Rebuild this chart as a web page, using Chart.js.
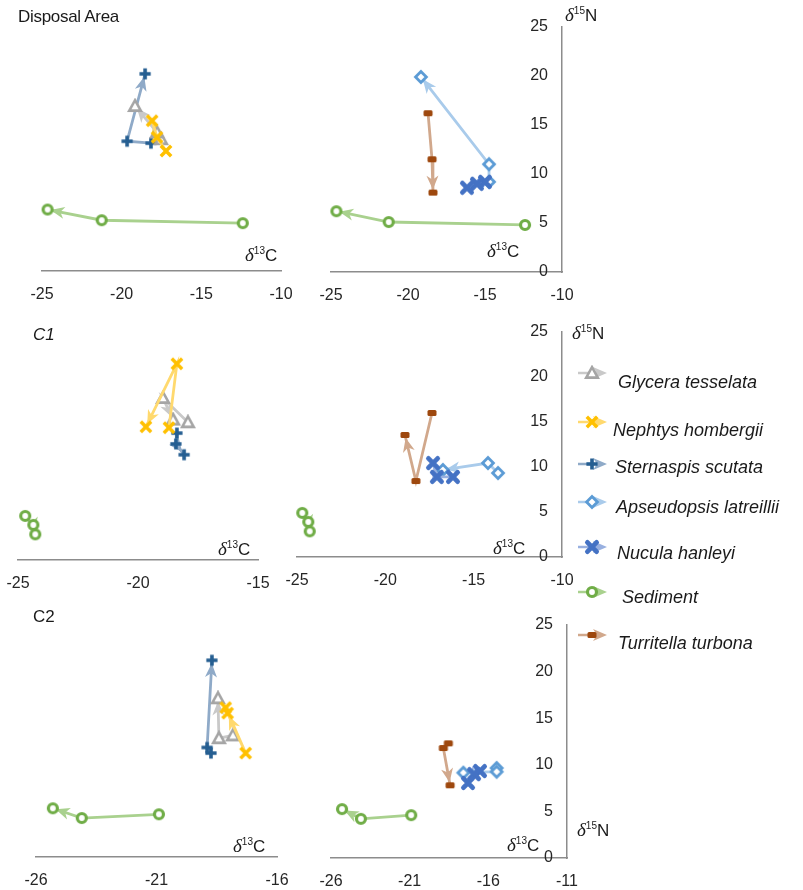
<!DOCTYPE html>
<html>
<head>
<meta charset="utf-8">
<script src="https://cdn.jsdelivr.net/npm/chart.js@4.4.1/dist/chart.umd.min.js"></script>
<style>
  body { margin: 0; background: #fff; }
  #stage { position: relative; width: 803px; height: 890px; overflow: hidden;
           font-family: "Liberation Sans", Arial, sans-serif; color: #1a1a1a; }
  #stage canvas { position: absolute; }
  .lbl { position: absolute; white-space: nowrap; line-height: 20px; font-size: 17px; }
  .ax i { font-family: "Liberation Serif", serif; font-size: 19px; }
  .ax sup { font-size: 10px; vertical-align: 7px; line-height: 0; }
  .leg { position: absolute; white-space: nowrap; font-style: italic; font-size: 18px; line-height: 20px; }
</style>
</head>
<body>
<div id="stage"></div>
<script>
// species shown in the legend, in legend order
const species = ['Glycera tesselata', 'Nephtys hombergii', 'Sternaspis scutata',
                 'Apseudopsis latreillii', 'Nucula hanleyi', 'Sediment', 'Turritella turbona'];

// axis ticks
const xTicksDisposal = [-25, -20, -15, -10];
const xTicksC1Left = [-25, -20, -15];
const xTicksC1Right = [-25, -20, -15, -10];
const xTicksC2 = [-26, -21, -16, -11];
const yTicks = [0, 5, 10, 15, 20, 25];

// [δ13C, δ15N] per sampling, in sampling order (arrow ends on the last one)
// Disposal Area
const glyceraDisposal = [[-17.53, 13.4], [-17.78, 14.1], [-19.16, 16.8]];
const nephtysDisposal = [[-17.22, 12.2], [-17.78, 13.6], [-18.09, 15.3]];
const sternaspisDisposal = [[-18.16, 13.0], [-19.66, 13.2], [-18.53, 20.1]];
const apseudopsisDisposal = [[-14.74, 9.2], [-14.74, 11.0], [-19.16, 19.9]];
const nuculaDisposal = [[-15.0, 9.2], [-15.52, 9.0], [-16.17, 8.6]];
const turritellaDisposal = [[-18.7, 16.2], [-18.44, 11.5], [-18.38, 8.1]];
const sedimentDisposal = [[-12.4, 4.8], [-21.25, 5.1], [-24.65, 6.2]];

// C1
const glyceraC1 = [[-17.92, 15.3], [-18.96, 18.0], [-18.54, 15.6]];
const nephtysC1 = [[-18.71, 14.7], [-18.38, 21.8], [-19.67, 14.8]];
const sternaspisC1 = [[-18.38, 14.1], [-18.42, 12.9], [-18.08, 11.7]];
const apseudopsisC1 = [[-13.62, 9.33], [-14.19, 10.44], [-16.74, 9.67]];
const nuculaC1 = [[-16.17, 8.9], [-17.08, 8.9], [-17.3, 10.44]];
const turritellaC1 = [[-17.36, 16.0], [-18.27, 8.44], [-18.89, 13.56]];
const sedimentC1 = [[-24.7, 4.9], [-24.36, 3.9], [-24.28, 2.85]];

// C2
const glyceraC2 = [[-17.83, 13.1], [-18.41, 12.8], [-18.45, 17.1]];
const nephtysC2 = [[-18.13, 16.1], [-17.3, 11.2], [-18.05, 15.5]];
const sternaspisC2 = [[-18.74, 11.2], [-18.9, 11.8], [-18.7, 21.2]];
const apseudopsisC2 = [[-15.47, 9.65], [-15.47, 9.26], [-17.59, 9.15]];
const nuculaC2 = [[-16.53, 9.33], [-16.91, 9.0], [-17.29, 8.05]];
const turritellaC2 = [[-18.54, 12.3], [-18.86, 11.8], [-18.43, 7.8]];
const sedimentC2 = [[-20.9, 4.6], [-24.1, 4.2], [-25.3, 5.25]];

// marker shape, marker colour, connecting line colour (same index as species)
const looks = [
  { shape: 'triangle', mark: '#a5a5a5', line: '#c9c9c9' },
  { shape: 'cross',    mark: '#ffc000', line: '#ffd96e' },
  { shape: 'plus',     mark: '#255e91', line: '#8faac8' },
  { shape: 'diamond',  mark: '#5b9bd5', line: '#a9cbeb' },
  { shape: 'star',     mark: '#4472c4', line: '#98b0e0' },
  { shape: 'ring',     mark: '#70ad47', line: '#a9d18e' },
  { shape: 'rect',     mark: '#9e480e', line: '#d1a88c' }
];

function makeMarker(shape, color) {
  const c = document.createElement('canvas');
  c.width = 16; c.height = 16;
  const g = c.getContext('2d');
  g.translate(8, 8);
  g.strokeStyle = color; g.fillStyle = color;
  g.beginPath();
  if (shape === 'triangle') {
    g.lineWidth = 2.6;
    g.moveTo(0, -5.8); g.lineTo(5.8, 4.6); g.lineTo(-5.8, 4.6); g.closePath();
    g.fillStyle = '#fff'; g.fill(); g.stroke();
  } else if (shape === 'cross') {
    g.lineWidth = 3.5;
    g.moveTo(-5.2, -5.2); g.lineTo(5.2, 5.2); g.moveTo(5.2, -5.2); g.lineTo(-5.2, 5.2); g.stroke();
  } else if (shape === 'plus') {
    g.lineWidth = 3.6;
    g.moveTo(0, -5.6); g.lineTo(0, 5.6); g.moveTo(-5.6, 0); g.lineTo(5.6, 0); g.stroke();
  } else if (shape === 'diamond') {
    g.lineWidth = 2.8;
    g.moveTo(0, -5.4); g.lineTo(5.4, 0); g.lineTo(0, 5.4); g.lineTo(-5.4, 0); g.closePath();
    g.fillStyle = '#fff'; g.fill(); g.stroke();
  } else if (shape === 'star') {
    g.lineWidth = 4.8; g.lineCap = 'round';
    g.moveTo(-4.6, -4.6); g.lineTo(4.6, 4.6); g.moveTo(4.6, -4.6); g.lineTo(-4.6, 4.6); g.stroke();
  } else if (shape === 'ring') {
    g.lineWidth = 3.2;
    g.arc(0, 0, 4.5, 0, Math.PI * 2);
    g.fillStyle = '#fff'; g.fill(); g.stroke();
  } else if (shape === 'rect') {
    g.roundRect(-4.5, -3, 9, 6, 1.5); g.fill();
  }
  return c;
}

const markers = looks.map(l => makeMarker(l.shape, l.mark));

// filled stealth arrowhead, tip just short of the target point
function drawArrow(ctx, from, to, color, size) {
  const ang = Math.atan2(to.y - from.y, to.x - from.x);
  const s = size || 1;
  ctx.save();
  ctx.translate(to.x, to.y);
  ctx.rotate(ang);
  ctx.translate(-3, 0);
  ctx.beginPath();
  ctx.moveTo(0, 0);
  ctx.lineTo(-14 * s, -6 * s);
  ctx.lineTo(-10 * s, 0);
  ctx.lineTo(-14 * s, 6 * s);
  ctx.closePath();
  ctx.fillStyle = color;
  ctx.fill();
  ctx.restore();
}

const arrowHeads = {
  id: 'arrowHeads',
  beforeDatasetsDraw(chart) {
    const ctx = chart.ctx;
    chart.data.datasets.forEach((ds, i) => {
      const pts = chart.getDatasetMeta(i).data;
      if (pts.length < 2) return;
      drawArrow(ctx, pts[pts.length - 2], pts[pts.length - 1], ds.borderColor);
    });
  }
};

const PAD = 40;
const X_AXIS_H = 34;
const tickFont = { family: '"Liberation Sans", Arial, sans-serif', size: 16 };

// chart area [left, top, right, bottom] on the page, scale ranges, series as [species index, data]
const panels = [
  { rect: [42, 27, 281, 271], x: [-25, -10], y: [-0.1, 24.9], xTicks: xTicksDisposal, yAxis: false,
    series: [[1, nephtysDisposal], [0, glyceraDisposal], [2, sternaspisDisposal], [5, sedimentDisposal]] },
  { rect: [331, 27, 562, 272], x: [-25, -10], y: [0, 25], xTicks: xTicksDisposal, yAxis: true,
    series: [[4, nuculaDisposal], [3, apseudopsisDisposal], [6, turritellaDisposal], [5, sedimentDisposal]] },
  { rect: [18, 335, 258, 560], x: [-25, -15], y: [0, 25], xTicks: xTicksC1Left, yAxis: false,
    series: [[1, nephtysC1], [0, glyceraC1], [2, sternaspisC1], [5, sedimentC1]] },
  { rect: [297, 332, 562, 557], x: [-25, -10], y: [0, 25], xTicks: xTicksC1Right, yAxis: true,
    series: [[4, nuculaC1], [3, apseudopsisC1], [6, turritellaC1], [5, sedimentC1]] },
  { rect: [36, 625, 277, 857], x: [-26, -16], y: [0, 25], xTicks: xTicksC2.slice(0, 3), yAxis: false,
    series: [[1, nephtysC2], [0, glyceraC2], [2, sternaspisC2], [5, sedimentC2]] },
  { rect: [331, 625, 567, 858], x: [-26, -11], y: [0, 25], xTicks: xTicksC2, yAxis: true,
    series: [[4, nuculaC2], [3, apseudopsisC2], [6, turritellaC2], [5, sedimentC2]] }
];

const stage = document.getElementById('stage');

panels.forEach(p => {
  const [l, t, r, b] = p.rect;
  const canvas = document.createElement('canvas');
  canvas.width = r - l + 2 * PAD;
  canvas.height = b - t + 2 * PAD;
  canvas.style.left = (l - PAD) + 'px';
  canvas.style.top = (t - PAD) + 'px';
  stage.appendChild(canvas);

  new Chart(canvas, {
    type: 'scatter',
    data: {
      datasets: p.series.map(([k, pts]) => ({
        label: species[k],
        data: pts.map(([x, y]) => ({ x, y })),
        showLine: true,
        borderColor: looks[k].line,
        borderWidth: 2.8,
        pointStyle: markers[k],
        pointRadius: 5,
        clip: false
      }))
    },
    options: {
      responsive: false,
      animation: false,
      events: [],
      layout: { padding: { left: PAD, right: PAD, top: PAD, bottom: PAD - X_AXIS_H }, autoPadding: false },
      plugins: { legend: { display: false }, tooltip: { enabled: false } },
      scales: {
        x: {
          type: 'linear', position: 'bottom', min: p.x[0], max: p.x[1],
          border: { display: true, color: '#8c8c8c', width: 1.5 },
          grid: { display: false, drawTicks: false },
          ticks: { padding: 14, font: tickFont, color: '#262626', maxRotation: 0, autoSkip: false },
          afterBuildTicks: s => { s.ticks = p.xTicks.map(v => ({ value: v })); },
          afterFit: s => { s.height = X_AXIS_H; }
        },
        y: {
          type: 'linear', position: 'right', min: p.y[0], max: p.y[1], display: p.yAxis,
          border: { display: true, color: '#8c8c8c', width: 1.5 },
          grid: { display: false, drawTicks: false },
          // labels sit inside the plot, right-aligned 14px left of the axis line
          ticks: { mirror: true, crossAlign: 'near', padding: -14, font: tickFont, color: '#262626' },
          afterBuildTicks: s => { s.ticks = yTicks.map(v => ({ value: v })); },
          afterFit: s => { s.width = 0; }
        }
      }
    },
    plugins: [arrowHeads]
  });
});

// panel titles and axis names
function addLabel(html, left, centerY, cls, extra) {
  const d = document.createElement('div');
  d.className = 'lbl ' + (cls || '');
  d.innerHTML = html;
  d.style.left = left + 'px';
  d.style.top = (centerY - 10) + 'px';
  if (extra) Object.assign(d.style, extra);
  stage.appendChild(d);
}

addLabel('Disposal Area', 18, 17, '', { letterSpacing: '-0.3px' });
addLabel('C1', 33, 335, '', { fontStyle: 'italic' });
addLabel('C2', 33, 617);

const d13C = '<i>δ</i><sup>13</sup>C';
const d15N = '<i>δ</i><sup>15</sup>N';
[[245, 255], [487, 251], [218, 549], [493, 548], [233, 846], [507, 845]]
  .forEach(([x, y]) => addLabel(d13C, x, y, 'ax'));
[[565, 15], [572, 333], [577, 830]]
  .forEach(([x, y]) => addLabel(d15N, x, y, 'ax'));

// legend: line + marker + arrowhead icon, then the species name
const legendRows = [
  [373, 618, 382], [422, 613, 430], [464, 615, 467], [502, 616, 507],
  [547, 617, 553], [592, 622, 597], [635, 618, 643]
];
species.forEach((name, k) => {
  const [iconY, textX, textY] = legendRows[k];
  const icon = document.createElement('canvas');
  icon.width = 34; icon.height = 16;
  icon.style.left = '577px';
  icon.style.top = (iconY - 8) + 'px';
  const g = icon.getContext('2d');
  g.strokeStyle = looks[k].line; g.lineWidth = 2.5;
  g.beginPath(); g.moveTo(1, 8); g.lineTo(24, 8); g.stroke();
  drawArrow(g, { x: 0, y: 8 }, { x: 33, y: 8 }, looks[k].line, 1.0);
  g.drawImage(markers[k], 15 - 8, 0);
  stage.appendChild(icon);

  const t = document.createElement('div');
  t.className = 'leg';
  t.textContent = name;
  t.style.left = textX + 'px';
  t.style.top = (textY - 10) + 'px';
  stage.appendChild(t);
});
</script>
</body>
</html>
